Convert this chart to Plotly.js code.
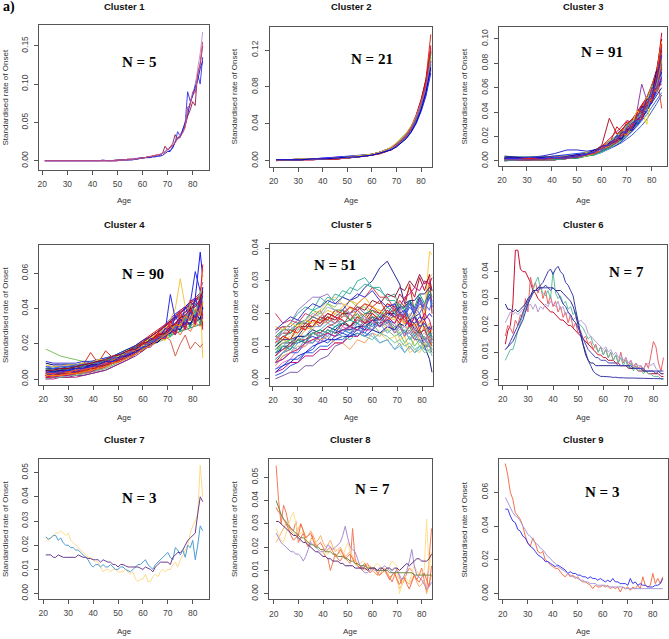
<!DOCTYPE html>
<html><head><meta charset="utf-8">
<script src="https://cdn.plot.ly/plotly-3.0.1.min.js"></script>
<style>html,body{margin:0;padding:0;background:#fff}</style>
</head><body><div id="chart" style="width:669px;height:639px"></div>
<script>
// ---------- x values ----------
const AGES_1Y = [21,22,23,24,25,26,27,28,29,30,31,32,33,34,35,36,37,38,39,40,41,42,43,44,45,46,47,48,49,50,51,52,53,54,55,56,57,58,59,60,61,62,63,64,65,66,67,68,69,70,71,72,73,74,75,76,77,78,79,80,81,82,83,84];
const AGES_E = [21,26,31,36,41,46,50,54,57,60,63,66,68,70,72,74,76,78,80,82,84];
const AGES_G = [21,24,27,30,33,36,39,42,45,48,51,54,57,60,63,66,69,71,73,75,77,79,81,83,84];
const X_TICKS = [20,30,40,50,60,70,80];
const TITLES = ['Cluster 1','Cluster 2','Cluster 3','Cluster 4','Cluster 5','Cluster 6','Cluster 7','Cluster 8','Cluster 9'];
const N_LABELS = ['N = 5','N = 21','N = 91','N = 90','N = 51','N = 7','N = 3','N = 7','N = 3'];
const Y_TICKS = [[0,0.05,0.10,0.15],[0,0.04,0.08,0.12],[0,0.02,0.04,0.06,0.08,0.10],[0,0.02,0.04,0.06],[0,0.01,0.02,0.03,0.04],[0,0.01,0.02,0.03,0.04],[0,0.01,0.02,0.03,0.04,0.05],[0,0.01,0.02,0.03,0.04,0.05],[0,0.02,0.04,0.06]];

// ---------- Cluster 1 (per year) ----------
const c1_a = [0,0,0,0,0,0,0,0,0,0, 0,0,0,0,0,0,0,0,0,0, 0,0,0,.001,0,0,0,0,0,.001, .001,.001,.001,.002,.002,.002,.003,.003,.004,.004, .004,.005,.005,.006,.006,.006,.007,.009,.012,.015, .013,.016,.024,.038,.032,.040,.048,.090,.078,.085, .100,.113,.100,.135];
const c1_b = [0,0,0,0,0,0,0,0,0,0, 0,0,0,0,0,0,0,0,0,0, 0,0,0,0,0,0,0,0,.001,.001, .001,.001,.001,.001,.002,.002,.002,.003,.003,.004, .004,.005,.005,.006,.007,.008,.008,.010,.019,.014, .018,.022,.034,.028,.033,.038,.045,.058,.066,.077, .072,.115,.125,.150];
const c1_c = [0,0,0,0,0,0,0,0,0,0, 0,0,0,0,0,0,0,0,0,0, 0,0,0,0,0,0,0,0,0,0, .001,.001,.001,.001,.001,.002,.002,.002,.003,.003, .004,.004,.005,.005,.006,.007,.008,.010,.012,.016, .016,.020,.026,.030,.034,.040,.050,.065,.075,.085, .095,.120,.140,.168];
const c1_d = [0,0,0,0,0,0,0,0,0,0, 0,0,0,0,0,0,0,0,0,0, 0,0,0,0,0,0,0,0,0,0, .001,.001,.001,.001,.001,.001,.002,.002,.003,.003, .004,.004,.004,.005,.005,.006,.006,.007,.009,.012, .012,.018,.025,.030,.030,.040,.050,.060,.075,.085, .095,.105,.120,.130];
const c1_e = [0,0,0,0,0,0,0,0,0,0, 0,0,0,0,0,0,0,0,0,0, 0,0,0,0,0,0,0,0,0,0, .001,.001,.001,.002,.002,.002,.002,.003,.003,.004, .004,.005,.006,.006,.007,.007,.008,.009,.011,.014, .017,.019,.023,.029,.031,.036,.043,.070,.072,.090, .088,.110,.128,.155];

// ---------- Cluster 2 (ages AGES_E) ----------
const c2_series = [
[.001,.001,.001,.002,.002,.002,.003,.004,.005,.006,.008,.011,.013,.017,.022,.028,.036,.047,.062,.082,.115],
[.001,.001,.002,.002,.003,.004,.005,.005,.006,.007,.009,.012,.014,.017,.021,.026,.033,.042,.055,.072,.098],
[.000,.001,.001,.002,.002,.003,.003,.004,.005,.006,.008,.010,.012,.016,.021,.027,.035,.046,.063,.085,.120],
[.001,.001,.001,.002,.002,.003,.003,.004,.006,.007,.009,.012,.015,.019,.024,.030,.037,.047,.060,.078,.105],
[.001,.001,.002,.002,.002,.003,.004,.004,.005,.007,.008,.011,.013,.016,.020,.025,.032,.041,.054,.070,.100],
[.001,.001,.001,.001,.002,.002,.003,.004,.005,.006,.008,.011,.014,.018,.023,.029,.037,.048,.064,.084,.112],
[.001,.001,.001,.002,.002,.003,.004,.005,.006,.007,.009,.012,.014,.018,.022,.028,.034,.044,.058,.076,.108],
[.001,.001,.001,.002,.002,.002,.003,.004,.005,.006,.007,.010,.012,.016,.020,.026,.034,.046,.062,.088,.137],
[.001,.001,.001,.001,.002,.002,.003,.004,.005,.006,.008,.010,.013,.017,.022,.029,.037,.049,.066,.088,.118],
[.001,.001,.002,.002,.002,.003,.003,.004,.005,.007,.009,.012,.015,.018,.023,.029,.036,.046,.059,.077,.103],
[.001,.001,.001,.002,.002,.003,.003,.004,.005,.006,.008,.011,.013,.017,.022,.028,.036,.047,.063,.083,.118],
[.001,.001,.002,.002,.003,.004,.005,.005,.005,.006,.008,.010,.012,.015,.019,.024,.031,.040,.053,.070,.095],
[.001,.001,.001,.002,.002,.003,.004,.004,.005,.007,.009,.012,.014,.018,.023,.029,.036,.046,.061,.080,.110],
[.000,.001,.001,.001,.002,.002,.003,.004,.005,.006,.008,.011,.013,.017,.022,.028,.037,.049,.065,.086,.125],
[.001,.001,.001,.002,.002,.003,.003,.004,.005,.007,.009,.012,.014,.018,.022,.028,.035,.045,.059,.078,.107],
[.001,.001,.001,.002,.002,.003,.004,.005,.006,.007,.009,.011,.013,.016,.020,.025,.032,.043,.057,.075,.104],
[.001,.001,.002,.002,.002,.003,.004,.005,.006,.007,.009,.012,.015,.019,.024,.030,.038,.048,.062,.081,.112],
[.001,.001,.001,.002,.002,.003,.003,.004,.005,.006,.008,.011,.013,.017,.021,.027,.035,.045,.060,.080,.116],
[.001,.001,.001,.002,.002,.002,.003,.004,.005,.006,.008,.010,.012,.016,.021,.027,.035,.046,.061,.082,.122],
[.001,.001,.001,.002,.002,.003,.003,.004,.005,.006,.008,.011,.013,.017,.022,.028,.036,.047,.061,.079,.108],
[.001,.001,.001,.002,.002,.003,.004,.004,.005,.006,.008,.010,.012,.015,.019,.024,.031,.041,.055,.074,.101]
];

// ---------- Cluster 3 (ages AGES_E) ----------
const c3_series = [
[.001,.001,.001,.001,.001,.002,.003,.005,.007,.010,.014,.019,.023,.027,.031,.036,.041,.047,.056,.066,.082],
[.003,.003,.003,.003,.004,.005,.006,.007,.008,.010,.012,.015,.018,.021,.025,.030,.035,.041,.048,.056,.066],
[.002,.002,.002,.002,.002,.003,.004,.006,.008,.011,.015,.020,.024,.028,.033,.038,.044,.050,.060,.072,.090],
[.003,.003,.003,.003,.003,.004,.005,.007,.009,.012,.016,.021,.025,.029,.034,.039,.045,.052,.062,.074,.095],
[.001,.001,.001,.001,.002,.002,.003,.005,.008,.013,.035,.022,.026,.030,.034,.039,.044,.050,.058,.068,.078],
[.002,.002,.003,.004,.006,.009,.009,.008,.009,.011,.013,.016,.019,.022,.026,.031,.037,.044,.052,.062,.075],
[.001,.001,.001,.002,.002,.003,.004,.006,.008,.011,.015,.019,.023,.028,.033,.040,.063,.050,.058,.068,.085],
[.002,.002,.002,.002,.002,.003,.004,.005,.007,.009,.012,.016,.019,.023,.028,.033,.039,.046,.055,.068,.088],
[.001,.001,.001,.001,.001,.002,.003,.004,.006,.009,.013,.018,.022,.027,.032,.038,.044,.051,.061,.075,.100],
[.003,.002,.002,.002,.002,.003,.004,.005,.007,.009,.012,.015,.018,.021,.024,.028,.033,.038,.044,.050,.056],
[.002,.002,.002,.002,.002,.003,.004,.005,.007,.010,.013,.017,.020,.024,.029,.034,.040,.047,.056,.067,.080],
[.000,.001,.001,.001,.001,.002,.003,.004,.006,.009,.014,.028,.024,.032,.030,.037,.043,.049,.057,.063,.070],
[.001,.001,.001,.001,.002,.002,.003,.005,.007,.010,.013,.017,.020,.023,.027,.031,.036,.042,.050,.058,.068],
[.001,.001,.001,.001,.002,.002,.003,.004,.006,.008,.011,.014,.017,.021,.025,.030,.036,.043,.052,.066,.085],
[.002,.002,.002,.002,.003,.003,.004,.005,.007,.009,.012,.016,.019,.023,.027,.032,.038,.044,.052,.061,.072],
[.001,.001,.001,.001,.001,.002,.003,.004,.006,.009,.012,.016,.020,.025,.030,.036,.043,.050,.060,.074,.094],
[.002,.002,.002,.002,.002,.003,.004,.006,.008,.011,.014,.018,.021,.025,.029,.034,.039,.045,.053,.062,.074],
[.001,.001,.001,.001,.002,.002,.003,.004,.006,.008,.011,.015,.018,.022,.026,.032,.038,.045,.054,.063,.073],
[.001,.001,.001,.001,.001,.002,.003,.004,.006,.008,.011,.015,.018,.022,.027,.033,.040,.048,.058,.071,.090],
[.002,.002,.002,.002,.002,.003,.004,.005,.007,.010,.014,.018,.022,.026,.031,.037,.043,.050,.058,.068,.080],
[.002,.002,.002,.002,.002,.003,.004,.005,.006,.008,.010,.013,.015,.018,.021,.025,.029,.034,.040,.047,.054],
[.001,.001,.001,.001,.002,.002,.003,.005,.008,.012,.018,.024,.028,.033,.032,.040,.046,.052,.060,.070,.105],
[.002,.002,.002,.002,.002,.003,.004,.005,.007,.009,.012,.016,.019,.023,.027,.033,.039,.046,.055,.065,.078],
[.002,.002,.002,.002,.002,.003,.004,.006,.008,.011,.015,.019,.023,.027,.032,.037,.041,.030,.055,.066,.082],
[.001,.001,.001,.001,.001,.002,.003,.004,.005,.007,.010,.013,.016,.020,.024,.029,.034,.041,.049,.058,.069],
[.001,.001,.001,.001,.002,.002,.003,.005,.007,.010,.014,.018,.022,.026,.030,.035,.040,.046,.053,.060,.063],
[.003,.003,.003,.003,.003,.003,.004,.005,.007,.009,.013,.017,.021,.025,.030,.036,.042,.049,.058,.070,.088],
[.001,.001,.001,.001,.001,.002,.003,.004,.006,.009,.013,.018,.022,.027,.033,.038,.044,.052,.062,.072,.043],
[.004,.003,.003,.003,.004,.004,.005,.006,.008,.010,.013,.016,.019,.022,.026,.030,.035,.041,.047,.054,.060],
[.001,.001,.001,.001,.001,.002,.003,.004,.005,.007,.010,.014,.017,.021,.026,.031,.037,.044,.053,.064,.077],
[.002,.001,.002,.001,.002,.003,.003,.006,.007,.012,.016,.018,.025,.024,.034,.033,.045,.043,.058,.061,.086],
[.001,.002,.001,.002,.002,.002,.004,.005,.009,.009,.013,.020,.019,.028,.027,.037,.036,.048,.047,.064,.072],
[.003,.002,.003,.002,.003,.004,.004,.007,.008,.011,.017,.016,.024,.026,.030,.041,.038,.052,.050,.071,.098],
[.000,.001,.001,.001,.001,.002,.002,.004,.005,.008,.011,.016,.017,.023,.026,.030,.039,.042,.055,.058,.081],
[.002,.002,.002,.003,.003,.003,.005,.006,.007,.010,.015,.017,.022,.022,.029,.034,.034,.047,.052,.060,.068],
[.001,.001,.001,.002,.002,.003,.004,.005,.008,.010,.012,.021,.020,.025,.031,.031,.042,.040,.057,.069,.093],
[.002,.003,.002,.002,.003,.003,.003,.006,.006,.009,.014,.015,.021,.027,.028,.035,.041,.046,.049,.065,.075],
[.001,.001,.001,.001,.002,.002,.003,.004,.006,.011,.013,.018,.024,.023,.032,.036,.037,.049,.061,.063,.089],
[.003,.003,.002,.003,.002,.004,.005,.006,.009,.009,.015,.019,.018,.026,.025,.032,.044,.045,.053,.074,.079],
[.001,.002,.002,.001,.002,.002,.004,.005,.007,.010,.012,.017,.022,.021,.030,.035,.039,.044,.059,.057,.083],
[.002,.001,.001,.002,.002,.003,.003,.005,.008,.012,.014,.016,.023,.025,.027,.038,.040,.051,.048,.067,.091],
[.001,.001,.002,.002,.003,.003,.004,.006,.007,.009,.016,.019,.020,.028,.033,.032,.043,.041,.056,.062,.070],
[.002,.002,.002,.002,.002,.003,.004,.005,.006,.011,.013,.018,.021,.024,.029,.034,.036,.048,.051,.070,.096],
[.001,.001,.001,.001,.002,.002,.003,.005,.008,.010,.014,.020,.019,.027,.026,.036,.042,.043,.060,.059,.077],
[.002,.002,.003,.002,.003,.003,.004,.006,.007,.012,.013,.017,.024,.023,.031,.033,.038,.050,.054,.066,.087]
];

// ---------- Cluster 4 (ages AGES_G) ----------
const c4_series = [
[.005,.005,.005,.006,.006,.007,.008,.009,.011,.012,.014,.016,.018,.021,.024,.027,.031,.034,.037,.039,.041,.044,.046,.072,.058],
[.002,.002,.003,.003,.004,.005,.006,.007,.009,.011,.013,.015,.018,.020,.023,.026,.029,.031,.028,.033,.035,.030,.038,.036,.042],
[.017,.015,.013,.012,.011,.010,.010,.010,.011,.012,.013,.014,.016,.017,.019,.021,.023,.024,.026,.027,.029,.030,.032,.034,.035],
[.003,.003,.004,.004,.005,.006,.007,.008,.010,.011,.013,.015,.018,.020,.023,.027,.030,.034,.040,.057,.041,.038,.045,.048,.012],
[.001,.001,.002,.002,.003,.004,.005,.006,.008,.009,.011,.013,.016,.018,.021,.024,.027,.029,.031,.033,.035,.037,.039,.041,.043],
[.004,.004,.005,.005,.006,.007,.008,.009,.010,.012,.013,.015,.017,.019,.021,.023,.026,.027,.029,.031,.032,.034,.036,.038,.040],
[.002,.002,.003,.003,.004,.005,.006,.007,.009,.010,.012,.014,.017,.019,.022,.025,.028,.048,.034,.037,.040,.043,.061,.050,.055],
[.006,.006,.007,.007,.008,.008,.009,.010,.011,.012,.014,.016,.017,.019,.020,.022,.024,.025,.026,.027,.028,.029,.030,.031,.032],
[.003,.004,.005,.006,.007,.008,.015,.009,.016,.012,.014,.016,.018,.021,.024,.027,.030,.032,.034,.036,.038,.040,.042,.044,.046],
[.001,.001,.001,.002,.002,.003,.004,.005,.006,.008,.010,.012,.014,.017,.020,.023,.026,.029,.031,.033,.035,.037,.039,.041,.043],
[.009,.008,.008,.008,.008,.009,.009,.010,.011,.012,.013,.015,.016,.018,.020,.022,.024,.026,.028,.030,.032,.034,.036,.038,.040],
[.004,.004,.005,.006,.007,.008,.009,.010,.012,.013,.015,.017,.019,.021,.023,.025,.027,.028,.029,.030,.031,.032,.033,.034,.035],
[.002,.002,.002,.003,.003,.004,.005,.006,.007,.009,.011,.013,.016,.019,.022,.025,.029,.031,.034,.036,.038,.040,.042,.044,.046],
[.000,.000,.001,.001,.001,.002,.003,.004,.005,.007,.009,.011,.014,.017,.020,.024,.028,.031,.034,.037,.040,.043,.046,.049,.052],
[.007,.007,.007,.007,.008,.008,.009,.010,.011,.012,.014,.016,.018,.020,.022,.024,.027,.029,.031,.033,.035,.037,.039,.041,.044],
[.002,.003,.003,.004,.005,.006,.007,.008,.010,.012,.014,.016,.019,.022,.025,.028,.031,.033,.030,.034,.032,.036,.030,.040,.028],
[.001,.002,.002,.003,.004,.004,.005,.006,.008,.010,.012,.014,.017,.020,.023,.026,.029,.033,.036,.038,.034,.040,.042,.038,.050],
[.003,.003,.004,.004,.005,.006,.007,.008,.009,.011,.013,.015,.017,.019,.021,.024,.027,.029,.032,.034,.031,.035,.033,.037,.035],
[.005,.005,.006,.006,.007,.008,.009,.010,.011,.013,.014,.016,.018,.020,.022,.024,.026,.028,.030,.032,.034,.036,.038,.040,.042],
[.001,.001,.002,.002,.003,.003,.004,.005,.007,.009,.011,.013,.016,.019,.022,.026,.030,.033,.036,.039,.041,.038,.044,.047,.049],
[.004,.004,.004,.005,.005,.006,.007,.008,.009,.011,.012,.014,.016,.018,.020,.022,.024,.026,.027,.029,.030,.032,.033,.035,.036],
[.002,.002,.003,.003,.004,.005,.006,.007,.009,.011,.013,.015,.017,.020,.022,.025,.027,.029,.030,.032,.033,.035,.036,.038,.039],
[.003,.003,.003,.004,.004,.005,.006,.007,.008,.010,.012,.014,.016,.018,.020,.023,.025,.027,.029,.031,.032,.034,.035,.037,.038],
[.001,.001,.002,.002,.003,.004,.005,.006,.008,.010,.012,.014,.016,.018,.020,.022,.024,.022,.013,.020,.025,.017,.021,.018,.020],
[.006,.006,.006,.007,.007,.008,.009,.010,.011,.013,.015,.017,.019,.022,.024,.027,.030,.033,.035,.038,.040,.042,.044,.047,.050],
[.002,.002,.002,.003,.003,.004,.005,.006,.007,.009,.011,.013,.015,.017,.019,.022,.024,.026,.028,.029,.031,.032,.034,.035,.036],
[.003,.003,.004,.004,.005,.006,.007,.008,.010,.011,.013,.016,.018,.021,.024,.027,.030,.032,.035,.038,.040,.043,.045,.048,.052],
[.004,.004,.004,.005,.005,.006,.007,.008,.009,.011,.013,.015,.017,.019,.021,.023,.025,.027,.029,.031,.033,.035,.037,.039,.062],
[.000,.001,.001,.001,.002,.002,.003,.004,.005,.007,.009,.011,.013,.016,.019,.022,.025,.027,.030,.032,.034,.036,.038,.040,.041],
[.010,.009,.009,.009,.009,.010,.010,.011,.012,.013,.014,.015,.017,.019,.021,.023,.025,.027,.029,.030,.031,.032,.033,.034,.030],
[.002,.002,.003,.003,.004,.005,.006,.007,.008,.010,.012,.014,.016,.018,.021,.024,.027,.029,.032,.035,.038,.041,.044,.047,.065],
[.003,.003,.004,.004,.005,.005,.006,.007,.008,.010,.012,.014,.016,.019,.022,.025,.028,.031,.028,.025,.030,.027,.032,.030,.034],
[.004,.003,.005,.004,.006,.006,.008,.008,.010,.012,.012,.016,.016,.021,.020,.026,.025,.033,.027,.038,.031,.045,.034,.049,.040],
[.002,.003,.003,.005,.004,.006,.007,.007,.009,.010,.013,.013,.017,.018,.023,.022,.029,.026,.036,.030,.041,.033,.046,.037,.052],
[.006,.005,.006,.006,.007,.007,.009,.009,.011,.011,.014,.014,.018,.017,.022,.021,.026,.024,.030,.027,.035,.029,.039,.031,.044],
[.001,.002,.002,.003,.003,.005,.005,.007,.008,.010,.011,.014,.015,.019,.019,.024,.023,.030,.026,.035,.029,.040,.032,.045,.030],
[.003,.004,.004,.005,.005,.007,.007,.009,.009,.012,.012,.015,.016,.019,.021,.023,.027,.027,.032,.031,.037,.034,.043,.037,.048],
[.008,.007,.007,.008,.008,.009,.009,.011,.011,.013,.013,.016,.016,.019,.019,.023,.022,.027,.025,.032,.028,.037,.030,.042,.033],
[.002,.002,.003,.003,.004,.004,.006,.006,.008,.009,.011,.012,.015,.016,.020,.021,.025,.028,.025,.034,.028,.041,.031,.048,.036],
[.005,.004,.005,.005,.006,.006,.008,.008,.010,.010,.013,.013,.016,.017,.020,.021,.025,.026,.029,.028,.033,.031,.037,.034,.041],
[.000,.001,.001,.002,.002,.003,.004,.005,.006,.008,.010,.012,.014,.017,.019,.023,.024,.030,.028,.036,.032,.043,.036,.050,.045],
[.003,.003,.004,.004,.005,.006,.006,.008,.009,.011,.012,.015,.016,.020,.020,.025,.024,.031,.028,.036,.032,.038,.035,.041,.037],
[.007,.006,.007,.007,.008,.008,.010,.009,.012,.012,.015,.014,.018,.018,.021,.022,.025,.027,.029,.032,.033,.037,.036,.042,.038],
[.001,.001,.002,.002,.003,.004,.004,.006,.007,.009,.010,.013,.014,.018,.018,.023,.023,.029,.025,.034,.028,.039,.031,.044,.034],
[.004,.004,.004,.005,.006,.006,.007,.008,.010,.010,.012,.014,.015,.018,.019,.023,.024,.029,.027,.034,.031,.038,.035,.043,.047],
[.002,.002,.002,.003,.003,.004,.005,.006,.007,.009,.010,.012,.014,.017,.019,.022,.025,.027,.031,.030,.036,.033,.040,.036,.044],
[.005,.005,.006,.006,.007,.008,.009,.010,.011,.013,.014,.016,.017,.020,.022,.025,.026,.030,.031,.035,.036,.040,.041,.045,.050]
];

// ---------- Cluster 5 (ages AGES_G) ----------
const c5_series = [
[.007,.010,.010,.013,.016,.016,.019,.018,.021,.021,.024,.025,.028,.030,.034,.036,.032,.029,.023,.024,.019,.020,.015,.016,.012],
[.020,.017,.018,.017,.020,.019,.021,.017,.019,.016,.020,.017,.015,.019,.016,.018,.014,.016,.013,.017,.014,.013,.016,.011,.013],
[.010,.012,.011,.014,.016,.015,.019,.018,.021,.019,.022,.019,.020,.017,.018,.015,.016,.012,.013,.009,.012,.015,.020,.039,.038],
[.001,.002,.004,.005,.008,.009,.012,.011,.013,.014,.013,.015,.014,.017,.016,.018,.017,.020,.019,.022,.020,.023,.022,.025,.024],
[.012,.015,.017,.020,.022,.021,.025,.023,.026,.025,.028,.027,.029,.028,.027,.025,.026,.021,.022,.018,.020,.016,.017,.013,.014],
[.005,.008,.009,.012,.011,.014,.013,.015,.014,.017,.016,.019,.018,.021,.020,.023,.022,.026,.024,.028,.025,.031,.027,.032,.020],
[.004,.007,.008,.011,.012,.014,.015,.017,.016,.018,.016,.017,.014,.013,.011,.012,.009,.010,.008,.010,.008,.009,.011,.010,.012],
[.000,.001,.002,.002,.004,.004,.006,.007,.010,.011,.014,.015,.018,.017,.020,.019,.022,.019,.020,.017,.016,.013,.012,.010,.009],
[.015,.016,.014,.017,.015,.018,.016,.019,.017,.020,.018,.021,.019,.022,.020,.023,.021,.024,.022,.029,.020,.025,.018,.030,.022],
[.008,.009,.011,.011,.012,.013,.012,.014,.013,.015,.014,.016,.015,.018,.017,.020,.019,.022,.020,.024,.021,.025,.022,.026,.023],
[.010,.013,.014,.017,.018,.021,.020,.023,.021,.021,.018,.019,.016,.017,.014,.015,.013,.014,.011,.013,.010,.012,.009,.011,.009],
[.006,.008,.011,.012,.015,.016,.018,.017,.020,.019,.022,.021,.023,.020,.021,.018,.019,.016,.017,.014,.015,.012,.013,.010,.011],
[.009,.011,.011,.013,.013,.015,.014,.016,.015,.017,.016,.018,.017,.019,.018,.021,.019,.020,.017,.018,.015,.014,.010,.006,.002],
[.003,.005,.006,.009,.010,.012,.011,.014,.013,.016,.015,.018,.017,.020,.018,.021,.019,.022,.020,.023,.021,.024,.022,.025,.023],
[.008,.011,.012,.015,.016,.019,.020,.023,.022,.025,.024,.022,.022,.019,.019,.016,.017,.014,.015,.012,.013,.010,.011,.008,.009],
[.003,.004,.006,.006,.008,.008,.010,.010,.012,.012,.014,.013,.016,.015,.019,.020,.023,.020,.019,.023,.020,.024,.021,.025,.022],
[.012,.014,.014,.016,.016,.018,.017,.019,.018,.020,.020,.022,.021,.024,.023,.026,.025,.028,.027,.030,.028,.032,.029,.031,.027],
[.011,.015,.017,.021,.023,.025,.025,.026,.023,.023,.020,.021,.018,.019,.016,.017,.014,.016,.013,.015,.012,.014,.011,.013,.011],
[.009,.012,.013,.016,.017,.020,.021,.024,.025,.023,.022,.019,.018,.015,.014,.012,.013,.010,.011,.008,.009,.008,.011,.010,.012],
[.010,.013,.014,.017,.018,.021,.022,.025,.024,.027,.026,.030,.031,.028,.028,.024,.024,.020,.021,.016,.017,.014,.015,.012,.013],
[.007,.009,.010,.012,.012,.014,.014,.016,.017,.019,.020,.023,.025,.028,.025,.025,.021,.021,.017,.017,.014,.015,.012,.013,.011],
[.005,.006,.008,.008,.011,.011,.013,.012,.015,.014,.016,.015,.017,.016,.019,.017,.020,.018,.021,.019,.022,.020,.023,.021,.024],
[.004,.007,.008,.010,.010,.012,.012,.013,.011,.011,.009,.012,.011,.014,.013,.016,.015,.018,.017,.020,.019,.022,.021,.031,.032],
[.013,.015,.015,.017,.017,.019,.018,.020,.019,.021,.018,.020,.017,.019,.016,.018,.015,.017,.014,.016,.013,.015,.012,.014,.012],
[.006,.008,.009,.012,.013,.016,.016,.018,.017,.018,.015,.016,.013,.014,.011,.012,.009,.011,.008,.010,.008,.010,.009,.012,.011],
[.002,.003,.005,.005,.007,.007,.009,.009,.011,.011,.013,.013,.015,.015,.017,.018,.021,.022,.025,.026,.028,.027,.030,.029,.031],
[.014,.016,.016,.018,.017,.019,.018,.020,.019,.021,.020,.022,.020,.020,.018,.018,.016,.016,.014,.014,.012,.012,.010,.010,.008],
[.010,.012,.012,.013,.013,.014,.013,.015,.014,.015,.015,.016,.016,.018,.018,.020,.020,.022,.022,.024,.024,.026,.026,.028,.027],
[.011,.013,.012,.016,.015,.018,.017,.020,.019,.018,.016,.019,.017,.020,.018,.021,.019,.017,.020,.016,.019,.015,.018,.014,.016],
[.006,.008,.010,.009,.012,.011,.014,.013,.016,.015,.014,.017,.016,.015,.017,.014,.016,.013,.015,.012,.014,.011,.013,.010,.012],
[.016,.015,.017,.016,.018,.017,.019,.021,.020,.022,.024,.023,.025,.022,.021,.019,.018,.020,.017,.019,.016,.018,.015,.017,.014],
[.002,.004,.005,.007,.008,.010,.011,.012,.012,.013,.013,.014,.013,.015,.014,.016,.015,.017,.016,.018,.017,.019,.018,.020,.019],
[.013,.012,.015,.014,.017,.016,.019,.018,.021,.020,.022,.021,.023,.022,.024,.020,.021,.018,.019,.016,.017,.014,.015,.012,.010],
[.008,.010,.009,.012,.011,.014,.015,.014,.016,.017,.018,.017,.020,.021,.019,.022,.020,.023,.021,.024,.022,.026,.023,.027,.025],
[.012,.014,.016,.015,.018,.020,.019,.022,.021,.019,.020,.018,.019,.017,.018,.016,.017,.015,.016,.014,.015,.013,.014,.012,.013],
[.005,.006,.008,.009,.011,.012,.013,.014,.013,.015,.016,.015,.017,.018,.016,.019,.017,.020,.018,.016,.019,.017,.020,.018,.015],
[.009,.010,.012,.011,.013,.014,.013,.015,.014,.013,.012,.014,.013,.012,.014,.013,.011,.012,.010,.011,.009,.010,.008,.009,.007],
[.015,.017,.019,.018,.021,.023,.022,.024,.023,.025,.024,.026,.025,.027,.024,.022,.023,.020,.021,.018,.019,.016,.017,.015,.016]
];

// ---------- Cluster 6 (per year) ----------
const c6_crimson = [.013,.018,.020,.028,.048,.048,.041,.040,.040,.038, .036,.033,.032,.030,.029,.028,.027,.026,.025,.025, .024,.023,.022,.022,.021,.020,.020,.019,.018,.017, .016,.015,.014,.013,.012,.011,.010,.009,.009,.008, .008,.007,.007,.007,.006,.006,.005,.005,.005,.004, .004,.004,.004,.003,.003,.003,.003,.002,.002,.002, .002,.002,.001,.001];
const c6_red = [.016,.020,.019,.017,.022,.020,.024,.023,.030,.025, .038,.034,.036,.032,.035,.030,.033,.028,.031,.027, .029,.025,.027,.023,.025,.021,.024,.019,.021,.017, .018,.015,.016,.013,.014,.011,.013,.010,.012,.009, .011,.008,.010,.007,.009,.006,.010,.006,.008,.005, .007,.004,.006,.004,.005,.003,.006,.004,.009,.014, .012,.006,.003,.008];
const c6_green = [.007,.009,.011,.011,.014,.018,.021,.024,.026,.028, .030,.033,.036,.038,.034,.032,.031,.033,.030,.040, .032,.030,.031,.028,.029,.026,.027,.024,.025,.021, .020,.019,.017,.015,.016,.013,.012,.010,.012,.009, .011,.008,.010,.007,.009,.006,.008,.005,.007,.004, .006,.003,.005,.003,.004,.002,.003,.002,.002,.001, .001,.001,.000,.000];
const c6_purple = [.021,.023,.025,.024,.025,.024,.025,.026,.025,.027, .028,.026,.028,.025,.027,.026,.028,.027,.029,.028, .027,.029,.026,.027,.024,.025,.023,.022,.023,.021, .022,.021,.020,.017,.016,.015,.014,.013,.012,.011, .012,.010,.011,.009,.010,.008,.009,.007,.008,.006, .007,.005,.006,.005,.005,.004,.005,.006,.005,.006, .004,.003,.002,.002];
const c6_navy1 = [.011,.012,.013,.014,.016,.018,.020,.022,.025,.028, .030,.032,.033,.034,.035,.036,.038,.040,.041,.039, .041,.042,.040,.039,.036,.035,.033,.031,.026,.021, .017,.013,.010,.007,.005,.003,.002,.0015,.001,.001, .001,.0008,.0008,.0006,.0007,.0005,.0006,.0005,.0004,.0005, .0004,.0004,.0003,.0004,.0003,.0003,.0002,.0003,.0002,.0002, .0002,.0001,.0002,.0001];
const c6_navy2 = [.028,.026,.026,.025,.026,.025,.026,.027,.028,.030, .031,.033,.033,.034,.034,.034,.035,.034,.034,.034, .033,.033,.033,.032,.031,.030,.029,.027,.024,.020, .016,.012,.009,.007,.006,.006,.005,.005,.005,.005, .005,.005,.005,.005,.005,.005,.005,.005,.005,.005, .004,.004,.004,.004,.004,.003,.003,.003,.003,.003, .002,.003,.002,.002];
const c6_blue = [.011,.012,.014,.016,.018,.020,.022,.025,.027,.029, .031,.032,.033,.033,.034,.034,.034,.034,.033,.034, .033,.032,.030,.028,.027,.025,.024,.022,.021,.019, .017,.015,.013,.011,.010,.009,.008,.008,.007,.007, .007,.006,.006,.006,.006,.005,.005,.005,.005,.005, .005,.004,.004,.004,.004,.004,.003,.003,.003,.003, .003,.003,.003,.003];

// ---------- Cluster 7 (per year) ----------
const c7_gold = [.023,.022,.023,.024,.025,.025,.026,.025,.024,.025, .022,.021,.020,.019,.018,.017,.016,.015,.015,.014, .013,.013,.011,.009,.010,.010,.009,.010,.010,.009, .009,.009,.010,.009,.008,.009,.006,.005,.006,.006, .008,.005,.005,.007,.008,.007,.009,.010,.009,.010, .010,.012,.013,.011,.014,.016,.018,.020,.025,.028, .030,.033,.053,.040];
const c7_blue = [.0235,.0225,.023,.024,.024,.022,.023,.021,.020,.020, .019,.019,.018,.018,.017,.016,.015,.014,.012,.011, .012,.012,.011,.012,.011,.011,.012,.011,.010,.010, .011,.011,.010,.0095,.009,.010,.011,.012,.012,.013, .014,.012,.011,.010,.012,.013,.014,.015,.016,.017, .015,.014,.019,.018,.016,.018,.015,.020,.019,.022, .014,.020,.028,.026];
const c7_purple = [.016,.016,.016,.015,.015,.016,.0155,.015,.015,.015, .015,.015,.015,.016,.0155,.015,.015,.0145,.0145,.014, .014,.014,.013,.014,.0135,.013,.013,.012,.012,.011, .012,.012,.0115,.011,.011,.011,.011,.011,.0105,.010, .011,.0105,.010,.009,.011,.012,.013,.013,.013,.013, .012,.015,.016,.017,.017,.018,.020,.022,.023,.024, .025,.033,.040,.038];

// ---------- Cluster 8 (per year) ----------
const c8_orange1 = [.055,.040,.030,.038,.035,.030,.028,.027,.031,.022, .024,.026,.022,.020,.023,.025,.021,.020,.019,.018, .016,.015,.010,.014,.017,.015,.014,.016,.016,.014, .013,.028,.015,.012,.011,.010,.012,.013,.011,.010, .009,.008,.010,.011,.010,.009,.007,.005,.008,.011, .007,.004,.006,.009,.011,.010,.008,.006,.008,.011, .006,.001,.015,.028];
const c8_orange2 = [.022,.024,.026,.028,.030,.029,.027,.026,.025,.028, .030,.027,.024,.025,.027,.025,.022,.023,.025,.022, .020,.021,.023,.020,.018,.019,.020,.018,.016,.017, .018,.016,.014,.013,.012,.011,.010,.011,.012,.010, .009,.008,.008,.010,.011,.009,.007,.008,.009,.006, .002,.004,.006,.005,.004,.006,.008,.005,.003,.004, .006,.000,.004,.008];
const c8_gold = [.028,.025,.023,.022,.026,.030,.033,.035,.030,.025, .026,.027,.024,.022,.023,.024,.022,.020,.019,.018, .017,.017,.019,.020,.019,.019,.017,.016,.019,.022, .018,.015,.013,.012,.013,.014,.013,.012,.011,.010, .012,.013,.012,.011,.010,.010,.012,.014,.013,.012, .000,.004,.008,.006,.005,.009,.012,.010,.008,.009, .010,.032,.010,.018];
const c8_red = [.037,.035,.034,.032,.030,.028,.025,.023,.024,.025, .030,.027,.024,.025,.026,.023,.020,.021,.022,.020, .018,.019,.020,.018,.016,.017,.019,.017,.015,.016, .017,.015,.013,.012,.011,.012,.013,.011,.009,.010, .011,.009,.008,.009,.010,.008,.006,.008,.009,.006, .004,.006,.007,.004,.002,.005,.008,.006,.005,.007, .009,.006,.003,.012];
const c8_lpurple = [.026,.024,.022,.021,.020,.019,.018,.018,.017,.017, .016,.014,.016,.019,.022,.021,.020,.019,.018,.018, .019,.021,.020,.019,.020,.021,.022,.025,.029,.024, .020,.019,.018,.015,.012,.010,.009,.009,.010,.011, .010,.010,.010,.011,.012,.011,.010,.009,.009,.010, .008,.006,.008,.010,.014,.019,.012,.008,.007,.006, .004,.002,.003,.005];
const c8_green = [.040,.037,.034,.032,.031,.029,.028,.027,.026,.025, .024,.024,.023,.022,.021,.021,.020,.020,.019,.019, .018,.018,.018,.017,.017,.016,.016,.016,.015,.015, .014,.014,.013,.013,.012,.012,.012,.011,.011,.011, .011,.010,.010,.010,.010,.010,.009,.009,.009,.009, .009,.009,.009,.009,.009,.009,.008,.008,.008,.008, .008,.008,.008,.008];
const c8_dpurple = [.031,.031,.030,.029,.028,.027,.026,.025,.025,.024, .023,.022,.022,.021,.020,.019,.018,.018,.017,.016, .016,.015,.015,.014,.014,.014,.013,.013,.012,.012, .012,.012,.011,.011,.011,.011,.011,.010,.011,.011, .011,.010,.011,.011,.010,.011,.011,.010,.011,.011, .010,.011,.012,.013,.012,.013,.014,.015,.015,.014, .014,.014,.015,.017];

// ---------- Cluster 9 (per year) ----------
const c9_orange = [.077,.070,.060,.056,.048,.046,.044,.040,.034,.030, .028,.033,.030,.025,.024,.025,.020,.019,.017,.016, .015,.015,.013,.011,.010,.012,.010,.011,.009,.010, .008,.007,.007,.006,.005,.003,.005,.004,.004,.005, .004,.005,.003,.004,.003,.004,.001,.004,.003,.004, .002,.004,.003,.005,.003,.010,.005,.004,.005,.012, .006,.009,.006,.010];
const c9_blue = [.050,.050,.046,.043,.042,.038,.037,.034,.033,.030, .028,.027,.025,.023,.022,.021,.019,.019,.018,.017, .016,.017,.016,.015,.014,.012,.013,.012,.012,.011, .011,.010,.010,.009,.010,.009,.009,.008,.009,.008, .007,.008,.007,.009,.007,.007,.006,.006,.006,.005, .009,.006,.007,.005,.006,.005,.005,.004,.004,.004, .005,.005,.006,.009];
const c9_purple = [.057,.054,.051,.048,.046,.045,.043,.040,.038,.035, .034,.032,.030,.029,.027,.026,.024,.022,.021,.019, .018,.016,.015,.014,.013,.012,.011,.010,.010,.009, .008,.008,.007,.007,.006,.006,.006,.005,.005,.005, .005,.004,.004,.004,.004,.004,.004,.004,.003,.003, .003,.003,.003,.003,.003,.003,.003,.003,.003,.003, .003,.003,.003,.003];

// ---------- colours ----------
const COL1 = ['#4444F2','#9E2A5A','#C39BD3','#2424C8','#D0507A'];
const COL2 = ['#E41A1C','#2222EE','#B2182B','#33A02C','#F2C12E','#8E44AD','#1A1AB0','#D7301F','#7F0000','#FF8C00','#333333','#3030FF','#1B9E77','#E8112D','#C51B7D','#4060E0','#E6C229','#4DAF4A','#CC2233','#9467BD','#0000CD'];
const COL3 = ['#E41A1C','#1F3FFF','#F5C518','#33A02C','#B2182B','#2B2BD0','#8E44AD','#FF7F00','#8B0000','#4169E1','#1B9E77','#D7191C','#000080','#FFD700','#5DA5DA','#E31A1C','#4DAF4A','#0033CC','#C51B7D','#FDAE61','#3A5FCD','#CC0033','#9B59B6','#EED202','#2121E0','#A50026','#2CA25F','#E8473C','#1E3A8A','#66C2A5',
  '#D7191C','#2020E8','#F0C020','#1B9E77','#C51B7D','#3A3AD0','#E8473C','#A6D854','#0000B0','#FF7F00','#B2182B','#5DA5DA','#E41A1C','#7B3294','#2B2BE0'];
const COL4 = ['#1515F0','#E41A1C','#7FBF5F','#F3C742','#8E44AD','#A50026','#2B2BE8','#1B9E77','#D7301F','#FF8C00','#000080','#33A02C','#5DA5DA','#C51B7D','#3050E0','#E31A1C','#FFD23F','#9467BD','#1F7A3A','#CC2233','#4169E1','#FDAE61','#41B6C4','#D6604D','#2020C0','#66BD63','#B2182B','#F6D55C','#7B3294','#3A3AD0','#E8112D','#F46D43',
  '#E41A1C','#2222E8','#1B9E77','#D7191C','#3A5FCD','#F2C12E','#B2182B','#0000B0','#66C2A5','#E8473C','#4169E1','#C51B7D','#2B2BD0','#FF7F00','#A50026'];
const COL5 = ['#2B2B9A','#D6336C','#FDC84A','#2F4FE0','#41AE9E','#B2182B','#5AB4E0','#7B5BA8','#D7301F','#1E40C8','#66BD63','#F39C3C','#1A237E','#E377C2','#9ACD68','#3060E0','#8B1A3A','#9B7CC8','#EED36A','#3CB6A0','#E04050','#4169E1','#F4A460','#2E8B57','#74ADD1','#C71585','#8064A2','#27318A',
  '#E41A1C','#5DA5DA','#F2C12E','#2222C8','#D7301F','#1B9E77','#B2ABD2','#C51B7D','#66C2A5','#3A3AD0'];
const COL6 = ['#C8102E','#E8636B','#5FBF9F','#B59BD3','#3B3BA8','#2B2B8A','#4747B8'];
const COL7 = ['#FDD98A','#4E9BD0','#6A3D8F'];
const COL8 = ['#F47A5A','#FDB06A','#FDE08E','#F26D4A','#A98BD0','#6E8B3D','#5B2D7A'];
const COL9 = ['#F4704A','#3A3AF0','#A99BD6'];

// ---------- layout geometry (pixels) ----------
const W = 669, H = 639;
const BOX = [
 [39.3,208.7,25,170],[269.7,432.3,26.7,166.7],[499.3,666.7,26.7,165.7],
 [39.3,208.7,245,385],[269.7,433,244.3,385.7],[499.3,667,245,385],
 [39.3,208.7,459.3,598.7],[269,432.3,459.3,599.3],[499.3,668.3,459.3,599.3]];
const XR = [[18.8,86.4],[18.4,84.6],[18.9,86.0],[18.4,86.4],[18.7,84.4],[18.6,85.4],[18.4,86.4],[18.1,84.3],[18.6,86.2]];
const YR = [[-0.0121,0.177],[-0.0065,0.1453],[-0.0039,0.110],[-0.0034,0.0761],[-0.0021,0.0412],[-0.0022,0.04995],[-0.0021,0.0555],[-0.0024,0.0577],[-0.0033,0.0795]];
const NPOS = [[139,61.7],[372,59.3],[602,52.3],[142.7,274.3],[334.7,265],[626,271.7],[139.3,497.7],[372,488.7],[602,492]];
const TITLE_Y = [6.7,6.7,6.7,225,225,225,439.7,439.7,439.7];
const AGE_Y = [200,200,200,417.3,417.3,417.3,631,631,631];
const YLAB_X = [5,234.7,464.3,5,234.7,464.3,5,234.7,464.3];

const panels = [
 {ages:AGES_1Y, series:[c1_a,c1_b,c1_c,c1_d,c1_e], colors:COL1},
 {ages:AGES_E, series:c2_series, colors:COL2},
 {ages:AGES_E, series:c3_series, colors:COL3},
 {ages:AGES_G, series:c4_series, colors:COL4},
 {ages:AGES_G, series:c5_series, colors:COL5},
 {ages:AGES_1Y, series:[c6_crimson,c6_red,c6_green,c6_purple,c6_navy1,c6_navy2,c6_blue], colors:COL6},
 {ages:AGES_1Y, series:[c7_gold,c7_blue,c7_purple], colors:COL7},
 {ages:AGES_1Y, series:[c8_orange1,c8_orange2,c8_gold,c8_red,c8_lpurple,c8_green,c8_dpurple], colors:COL8},
 {ages:AGES_1Y, series:[c9_orange,c9_blue,c9_purple], colors:COL9}
];

const traces = [];
const layout = {
  width:W, height:H, margin:{l:0,r:0,t:0,b:0}, showlegend:false,
  paper_bgcolor:'#fff', plot_bgcolor:'#fff', annotations:[]
};
const px = x => x / W, py = y => 1 - y / H;
const tickFont = {family:'Liberation Sans, Arial, sans-serif', size:8.5, color:'#444'};

panels.forEach((p, i) => {
  const k = i + 1, sfx = k === 1 ? '' : String(k);
  p.series.forEach((ys, j) => {
    traces.push({type:'scatter', mode:'lines', x:p.ages, y:ys, xaxis:'x'+sfx, yaxis:'y'+sfx,
      line:{color:p.colors[j % p.colors.length], width:1}, hoverinfo:'skip'});
  });
  const b = BOX[i];
  const common = {showline:true, mirror:true, linecolor:'#555', linewidth:1, ticks:'outside', ticklen:4,
    tickcolor:'#555', tickwidth:1, showgrid:false, zeroline:false, tickfont:tickFont, fixedrange:true};
  layout['xaxis'+sfx] = Object.assign({}, common, {domain:[px(b[0]), px(b[1])], range:XR[i],
    anchor:'y'+sfx, tickvals:X_TICKS, ticktext:X_TICKS.map(String), ticklabelstandoff:2});
  layout['yaxis'+sfx] = Object.assign({}, common, {domain:[py(b[3]), py(b[2])], range:YR[i],
    anchor:'x'+sfx, tickvals:Y_TICKS[i], ticktext:Y_TICKS[i].map(v => v.toFixed(2)), tickangle:-90, ticklabelstandoff:3});
  const cx = (b[0] + b[1]) / 2, cy = (b[2] + b[3]) / 2;
  layout.annotations.push({xref:'paper', yref:'paper', x:px(cx), y:py(TITLE_Y[i]), text:'<b>'+TITLES[i]+'</b>',
    showarrow:false, xanchor:'center', yanchor:'middle', font:{family:'Liberation Sans, Arial, sans-serif', size:9.5, color:'#111'}});
  layout.annotations.push({xref:'paper', yref:'paper', x:px(cx), y:py(AGE_Y[i]), text:'Age',
    showarrow:false, xanchor:'center', yanchor:'middle', font:{family:'Liberation Sans, Arial, sans-serif', size:8, color:'#333'}});
  layout.annotations.push({xref:'paper', yref:'paper', x:px(YLAB_X[i]), y:py(cy), text:'Standardised rate of Onset',
    textangle:-90, showarrow:false, xanchor:'center', yanchor:'middle', font:{family:'Liberation Sans, Arial, sans-serif', size:8, color:'#333'}});
  layout.annotations.push({xref:'paper', yref:'paper', x:px(NPOS[i][0]), y:py(NPOS[i][1]), text:'<b>'+N_LABELS[i]+'</b>',
    showarrow:false, xanchor:'center', yanchor:'middle', font:{family:'Liberation Serif, Times New Roman, serif', size:15, color:'#000'}});
});
layout.annotations.push({xref:'paper', yref:'paper', x:px(1), y:py(7.5), text:'<b>a)</b>', showarrow:false,
  xanchor:'left', yanchor:'middle', font:{family:'Liberation Serif, Times New Roman, serif', size:14, color:'#000'}});

Plotly.newPlot('chart', traces, layout, {staticPlot:true, displayModeBar:false});
</script></body></html>
